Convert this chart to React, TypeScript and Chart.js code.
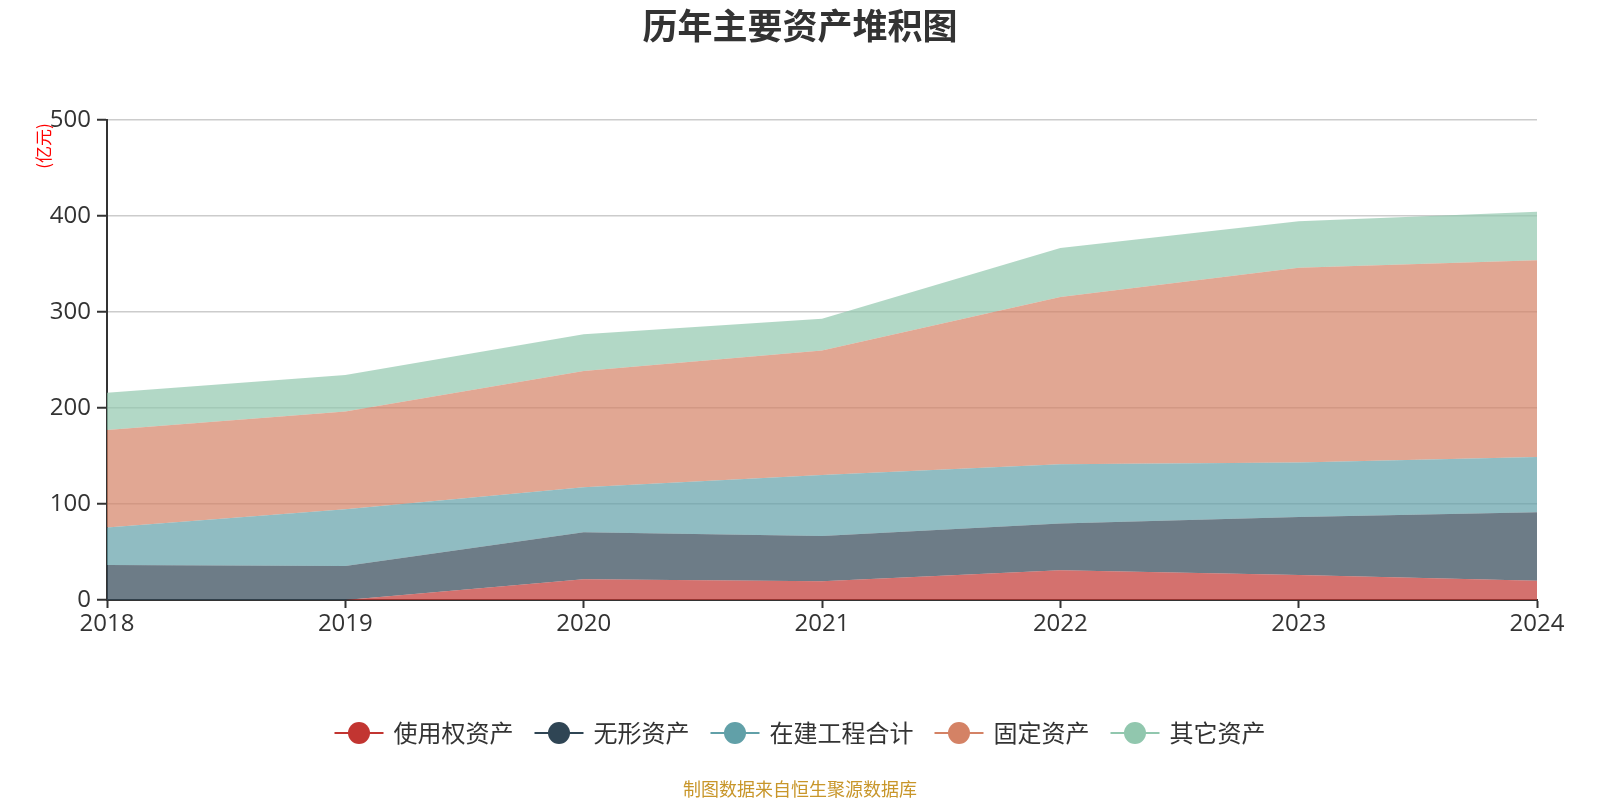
import React, { useEffect, useRef } from "react";
import { Chart, registerables } from "chart.js";

Chart.register(...registerables);

const years = ["2018", "2019", "2020", "2021", "2022", "2023", "2024"];
const seriesNames = ["使用权资产", "无形资产", "在建工程合计", "固定资产", "其它资产"];
const rightOfUse = [0, 0, 21.6, 19.5, 30.9, 26.0, 20.0];
const intangible = [36.5, 35.4, 48.9, 47.2, 48.7, 60.5, 71.5];
const construction = [38.9, 59.1, 46.9, 63.5, 61.8, 56.6, 57.5];
const fixedAssets = [101.7, 101.8, 121.1, 129.8, 174.2, 203.1, 205.0];
const otherAssets = [38.9, 38.1, 38.3, 33.0, 51.1, 48.3, 50.5];
const yTicks = [0, 100, 200, 300, 400, 500];

const lineColors = ["#c23531", "#2f4554", "#61a0a8", "#d48265", "#91c7ae"];
const fillColors = [
  "rgba(194,53,49,0.7)",
  "rgba(47,69,84,0.7)",
  "rgba(97,160,168,0.7)",
  "rgba(212,130,101,0.7)",
  "rgba(145,199,174,0.7)",
];

const FONT = '"Open Sans", "Noto Sans CJK SC", sans-serif';
const CJK = '"Noto Sans CJK SC", sans-serif';

const decorPlugin = {
  id: "decor",
  afterDraw(chart: any) {
    const ctx = chart.ctx as CanvasRenderingContext2D;
    ctx.save();
    // title
    ctx.fillStyle = "#333";
    ctx.font = `bold 35px ${CJK}`;
    ctx.textAlign = "center";
    ctx.textBaseline = "middle";
    ctx.fillText("历年主要资产堆积图", 800, 26);

    // y axis name
    ctx.save();
    ctx.translate(44, 146);
    ctx.rotate(-Math.PI / 2);
    ctx.fillStyle = "#ff0000";
    ctx.font = `17px ${CJK}`;
    ctx.textAlign = "center";
    ctx.textBaseline = "middle";
    ctx.fillText("(亿元)", 0, 0);
    ctx.restore();

    // legend
    ctx.font = `24px ${CJK}`;
    const lineW = 49;
    const gapText = 10;
    const gapItem = 21;
    const widths = seriesNames.map((n) => ctx.measureText(n).width);
    let total = 0;
    widths.forEach((w, i) => {
      total += lineW + gapText + w + (i < widths.length - 1 ? gapItem : 0);
    });
    let x = 800 - total / 2;
    const ly = 733;
    seriesNames.forEach((name, i) => {
      ctx.strokeStyle = lineColors[i];
      ctx.lineWidth = 2;
      ctx.beginPath();
      ctx.moveTo(x, ly);
      ctx.lineTo(x + lineW, ly);
      ctx.stroke();
      ctx.fillStyle = lineColors[i];
      ctx.beginPath();
      ctx.arc(x + lineW / 2, ly, 11, 0, Math.PI * 2);
      ctx.fill();
      ctx.fillStyle = "#333";
      ctx.textAlign = "left";
      ctx.textBaseline = "middle";
      ctx.fillText(name, x + lineW + gapText, ly);
      x += lineW + gapText + widths[i] + gapItem;
    });

    // footer
    ctx.fillStyle = "#c8962a";
    ctx.font = `18px ${CJK}`;
    ctx.textAlign = "center";
    ctx.textBaseline = "middle";
    ctx.fillText("制图数据来自恒生聚源数据库", 800, 789);
    ctx.restore();
  },
};

export default function App() {
  const ref = useRef<HTMLCanvasElement | null>(null);

  useEffect(() => {
    document.body.style.margin = "0";
    const canvas = ref.current;
    if (!canvas) return;
    const seriesData = [rightOfUse, intangible, construction, fixedAssets, otherAssets];
    const chart = new Chart(canvas, {
      type: "line",
      data: {
        labels: years,
        datasets: seriesData.map((d, i) => ({
          label: seriesNames[i],
          data: d,
          borderColor: lineColors[i],
          backgroundColor: fillColors[i],
          borderWidth: 0,
          pointRadius: 0,
          pointHoverRadius: 0,
          tension: 0,
          fill: i === 0 ? "origin" : "-1",
        })),
      },
      options: {
        responsive: false,
        animation: false,
        maintainAspectRatio: false,
        layout: { padding: { left: 0, right: 63, top: 120, bottom: 0 } },
        plugins: {
          legend: { display: false },
          title: { display: false },
          tooltip: { enabled: false },
          filler: { propagate: false },
        },
        scales: {
          x: {
            offset: false,
            grid: {
              drawOnChartArea: false,
              drawTicks: true,
              tickLength: 8,
              tickColor: "#333",
              tickWidth: 2,
            },
            border: { display: true, color: "#333", width: 2 },
            ticks: {
              color: "#333",
              font: { size: 24, family: FONT },
              padding: 2,
              maxRotation: 0,
              autoSkip: false,
            },
            afterFit(scale: any) {
              scale.height = 200;
            },
          },
          y: {
            stacked: true,
            min: 0,
            max: 500,
            afterBuildTicks(scale: any) {
              scale.ticks = yTicks.map((v) => ({ value: v }));
            },
            grid: {
              color: "#cccccc",
              lineWidth: 1.5,
              drawTicks: true,
              tickLength: 10,
              tickColor: "#333",
              tickWidth: 2,
            },
            border: { display: true, color: "#333", width: 2 },
            ticks: {
              color: "#333",
              font: { size: 24, family: FONT },
              padding: 6,
            },
            afterFit(scale: any) {
              scale.width = 107;
            },
          },
        },
      },
      plugins: [decorPlugin],
    });
    return () => chart.destroy();
  }, []);

  return (
    <div style={{ width: 1600, height: 800 }}>
      <canvas ref={ref} width={1600} height={800} style={{ width: 1600, height: 800, display: "block" }} />
    </div>
  );
}
